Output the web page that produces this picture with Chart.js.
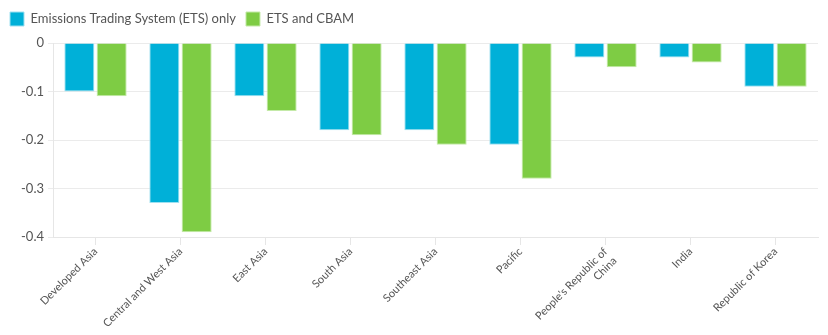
<!DOCTYPE html>
<html>
<head>
<meta charset="utf-8">
<script src="https://cdn.jsdelivr.net/npm/chart.js@4"></script>
<style>
  html, body { margin: 0; padding: 0; background: #fff; }
  #wrap { width: 828px; height: 335px; position: relative; }
</style>
</head>
<body>
<div id="wrap"><canvas id="c"></canvas></div>
<script>
const categories = [
  "Developed Asia", "Central and West Asia", "East Asia", "South Asia",
  "Southeast Asia", "Pacific", ["People's Republic of", "China"], "India",
  "Republic of Korea"
];
const etsOnly = [-0.10, -0.33, -0.11, -0.18, -0.18, -0.21, -0.03, -0.03, -0.09];
const etsCbam = [-0.11, -0.39, -0.14, -0.19, -0.21, -0.28, -0.05, -0.04, -0.09];
const yTicks = [0, -0.1, -0.2, -0.3, -0.4];

const FONT = "Lato, 'Open Sans', sans-serif";
const TEXT = '#555';

// Extra room between the legend and the plot area
const legendMargin = {
  id: 'legendMargin',
  beforeInit(chart) {
    const fit = chart.legend.fit;
    chart.legend.fit = function () {
      fit.bind(chart.legend)();
      this.height += 7;
    };
  }
};

new Chart(document.getElementById('c'), {
  type: 'bar',
  plugins: [legendMargin],
  data: {
    labels: categories,
    datasets: [
      {
        label: 'Emissions Trading System (ETS) only',
        data: etsOnly,
        backgroundColor: '#00b0d8',
        borderColor: '#9fe0f0',
        borderWidth: 1
      },
      {
        label: 'ETS and CBAM',
        data: etsCbam,
        backgroundColor: '#7ecc44',
        borderColor: '#c4eaa8',
        borderWidth: 1
      }
    ]
  },
  options: {
    responsive: true,
    maintainAspectRatio: false,
    animation: false,
    layout: { padding: { left: 0, right: 10, top: 2, bottom: 0 } },
    datasets: { bar: { categoryPercentage: 0.76, barPercentage: 0.93 } },
    plugins: {
      tooltip: { enabled: false },
      legend: {
        position: 'top',
        align: 'start',
        labels: {
          boxWidth: 14,
          boxHeight: 14,
          padding: 10,
          color: TEXT,
          font: { family: FONT, size: 13 }
        }
      }
    },
    scales: {
      x: {
        grid: { offset: false, drawOnChartArea: false, drawTicks: true, tickLength: 8, color: '#e6e6e6' },
        border: { display: true, color: '#e6e6e6' },
        ticks: {
          minRotation: 45,
          maxRotation: 45,
          autoSkip: false,
          color: TEXT,
          padding: 0,
          font: { family: FONT, size: 11 }
        },
        afterFit(scale) { scale.height = 98; }
      },
      y: {
        min: -0.4,
        max: 0,
        afterBuildTicks(scale) { scale.ticks = yTicks.map(v => ({ value: v })); },
        grid: { color: '#ebebeb', tickLength: 5 },
        border: { display: true, color: '#e6e6e6' },
        ticks: {
          color: TEXT,
          padding: 4,
          font: { family: FONT, size: 13 },
          callback: v => (v === 0 ? '0' : String(v))
        },
        afterFit(scale) { scale.width = 53; }
      }
    }
  }
});
</script>
</body>
</html>
